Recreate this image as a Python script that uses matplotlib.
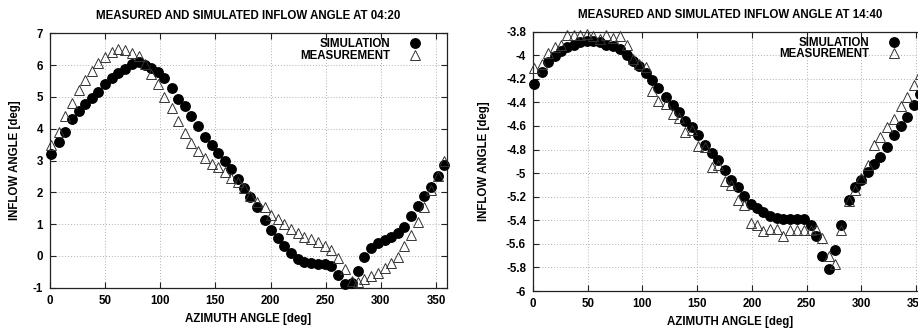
import matplotlib
matplotlib.use('Agg')
import matplotlib.pyplot as plt
from matplotlib.ticker import FuncFormatter

plt.rcParams['font.family'] = ['Liberation Sans', 'DejaVu Sans']
plt.rcParams['font.weight'] = 'bold'
plt.rcParams['axes.unicode_minus'] = False

# ---------------- data: left panel (04:20) ----------------
title_left = "MEASURED AND SIMULATED INFLOW ANGLE AT 04:20"
az_left = [0.5, 7.8, 13.3, 19.9, 26.0, 32.0, 37.9, 43.6, 49.7, 55.8,
           62.1, 67.8, 74.0, 80.3, 86.1, 92.0, 97.9, 103.8, 110.3, 116.4,
           122.1, 128.2, 134.2, 140.9, 146.7, 152.7, 158.8, 164.4, 170.2, 176.1,
           181.8, 187.9, 194.6, 200.6, 206.5, 212.6, 218.7, 224.7, 230.6, 236.7,
           242.6, 249.0, 254.8, 261.2, 267.3, 273.6, 279.3, 285.0, 291.0, 297.1,
           303.4, 309.2, 315.6, 321.4, 327.7, 333.7, 339.5, 345.6, 351.6, 357.0]
sim_left = [3.19, 3.59, 3.91, 4.30, 4.56, 4.78, 4.96, 5.16, 5.39, 5.58,
            5.76, 5.88, 6.04, 6.10, 6.01, 5.91, 5.79, 5.60, 5.27, 4.92,
            4.71, 4.39, 4.10, 3.74, 3.48, 3.23, 2.97, 2.72, 2.42, 2.12,
            1.84, 1.54, 1.12, 0.83, 0.55, 0.31, 0.08, -0.11, -0.20, -0.23,
            -0.24, -0.27, -0.31, -0.61, -0.89, -0.86, -0.46, -0.02, 0.26, 0.41,
            0.50, 0.58, 0.71, 0.91, 1.26, 1.56, 1.88, 2.18, 2.51, 2.86]
meas_left = [3.49, 3.91, 4.40, 4.82, 5.22, 5.53, 5.82, 6.08, 6.27, 6.41,
             6.50, 6.48, 6.39, 6.29, 6.02, 5.71, 5.40, 5.01, 4.64, 4.24,
             3.88, 3.56, 3.30, 3.09, 2.90, 2.78, 2.65, 2.45, 2.31, 2.15,
             1.88, 1.69, 1.53, 1.29, 1.15, 1.00, 0.85, 0.71, 0.58, 0.52,
             0.45, 0.31, 0.19, -0.07, -0.41, -0.79, -0.81, -0.74, -0.63, -0.53,
             -0.39, -0.23, -0.02, 0.31, 0.66, 1.06, 1.55, 2.07, 2.52, 3.00]
yticks_left = [-1, 0, 1, 2, 3, 4, 5, 6, 7]

# ---------------- data: right panel (14:40) ----------------
title_right = "MEASURED AND SIMULATED INFLOW ANGLE AT 14:40"
az_right = [0.9, 7.9, 13.8, 19.7, 25.5, 31.4, 37.2, 42.9, 49.1, 55.0,
            61.0, 67.1, 72.7, 79.2, 85.5, 91.8, 97.3, 103.3, 108.8, 114.6,
            121.4, 127.6, 133.3, 139.3, 145.0, 150.5, 157.0, 163.4, 169.1, 175.1,
            181.3, 187.0, 193.0, 199.1, 204.8, 210.6, 217.0, 222.7, 228.8, 234.8,
            240.9, 247.2, 253.7, 259.0, 264.2, 270.9, 276.3, 281.6, 288.3, 294.3,
            299.8, 306.0, 312.0, 317.4, 323.4, 330.3, 336.1, 341.6, 347.7, 353.8]
sim_right = [-4.24, -4.14, -4.06, -4.01, -3.96, -3.93, -3.91, -3.89, -3.88, -3.88,
             -3.89, -3.91, -3.92, -3.95, -4.00, -4.05, -4.09, -4.15, -4.21, -4.28,
             -4.35, -4.42, -4.48, -4.56, -4.61, -4.68, -4.76, -4.83, -4.89, -4.97,
             -5.06, -5.12, -5.19, -5.26, -5.30, -5.33, -5.36, -5.38, -5.39, -5.39,
             -5.39, -5.39, -5.44, -5.53, -5.70, -5.81, -5.65, -5.44, -5.23, -5.12,
             -5.06, -4.99, -4.92, -4.86, -4.78, -4.68, -4.60, -4.52, -4.42, -4.33]
meas_right = [-4.11, -4.07, -3.98, -3.93, -3.91, -3.83, -3.83, -3.83, -3.82, -3.84,
              -3.86, -3.83, -3.85, -3.84, -3.91, -4.03, -4.07, -4.10, -4.30, -4.39,
              -4.41, -4.50, -4.53, -4.65, -4.63, -4.77, -4.78, -4.95, -4.93, -5.07,
              -5.10, -5.23, -5.27, -5.42, -5.44, -5.49, -5.47, -5.47, -5.53, -5.48,
              -5.48, -5.48, -5.48, -5.47, -5.55, -5.70, -5.77, -5.48, -5.24, -5.14,
              -5.04, -4.93, -4.76, -4.69, -4.61, -4.54, -4.43, -4.35, -4.25, -4.16]
yticks_right = [-6.0, -5.8, -5.6, -5.4, -5.2, -5.0, -4.8, -4.6, -4.4, -4.2, -4.0, -3.8]

xticks = [0, 50, 100, 150, 200, 250, 300, 350]
series_labels = ["SIMULATION", "MEASUREMENT"]
xlabel = "AZIMUTH ANGLE [deg]"
ylabel = "INFLOW ANGLE [deg]"

W, H = 918, 331
fig = plt.figure(figsize=(W / 100, H / 100), dpi=100)


def px_axes(x0, x1, ytop, ybot):
    return fig.add_axes([x0 / W, (H - ybot) / H, (x1 - x0) / W, (ybot - ytop) / H])


ax1 = px_axes(50, 447, 33.3, 287.7)
ax2 = px_axes(533, 927, 31.7, 291.0)

fs = 8.3


def style(ax, az, sim, meas, yticks, title, leg_anchor, ylabelpad):
    ax.plot(az, sim, linestyle='none', marker='o', markersize=6.8,
            color='black', clip_on=False, zorder=3, label=series_labels[0])
    ax.plot(az, meas, linestyle='none', marker='^', markersize=7.2,
            markerfacecolor='none', markeredgecolor='#333333',
            markeredgewidth=0.7, clip_on=False, zorder=4, label=series_labels[1])
    ax.set_xlim(0, 360)
    ax.set_ylim(min(yticks), max(yticks))
    ax.set_xticks(xticks)
    ax.set_yticks(yticks)
    ax.yaxis.set_major_formatter(FuncFormatter(lambda v, p: '%g' % round(v, 2)))
    ax.tick_params(direction='in', length=4, width=0.8, top=True, right=True,
                   labelsize=fs, pad=5, color='#222222')
    for lab in ax.get_xticklabels() + ax.get_yticklabels():
        lab.set_fontweight('bold')
    ax.grid(True, linestyle=(0, (1, 2)), color='#b0b0b0', linewidth=0.7)
    ax.set_axisbelow(True)
    for s in ax.spines.values():
        s.set_color('#222222')
        s.set_linewidth(0.9)
    ax.set_title(title, fontsize=fs, fontweight='bold', pad=10)
    ax.set_xlabel(xlabel, fontsize=fs, fontweight='bold', labelpad=4.5)
    ax.set_ylabel(ylabel, fontsize=fs, fontweight='bold', labelpad=ylabelpad)
    leg = ax.legend(loc='upper right', bbox_to_anchor=leg_anchor,
                    markerfirst=False, frameon=False, numpoints=1,
                    fontsize=fs, handlelength=1.0, handletextpad=1.6,
                    labelspacing=-0.07, borderpad=0, borderaxespad=0)
    for t in leg.get_texts():
        t.set_fontweight('bold')
    return leg


style(ax1, az_left, sim_left, meas_left, yticks_left, title_left, (0.933, 0.98), 8.3)
style(ax2, az_right, sim_right, meas_right, yticks_right, title_right, (0.93, 0.98), 11.5)

fig.savefig('out.png', dpi=100)
